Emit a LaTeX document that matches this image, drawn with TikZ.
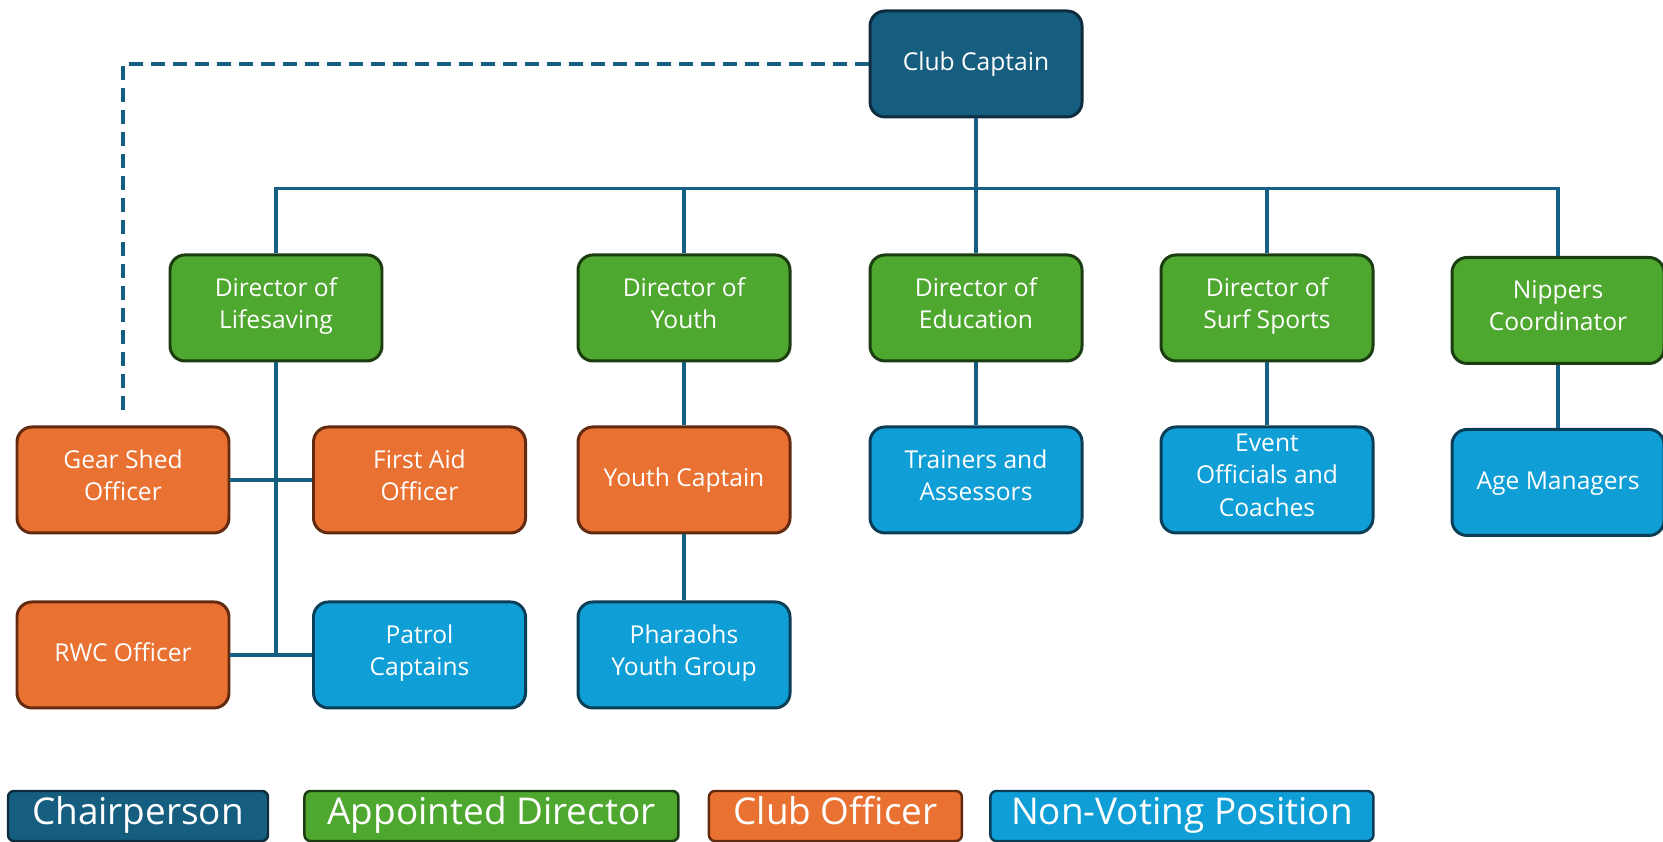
\documentclass[tikz,border=0pt]{standalone}
\usepackage{fontspec}
\setmainfont{Open Sans}
\usepackage{xcolor}
\usetikzlibrary{positioning}
\definecolor{chairfill}{RGB}{22,94,128}
\definecolor{chairline}{RGB}{14,44,62}
\definecolor{dirfill}{RGB}{78,167,46}
\definecolor{dirline}{RGB}{28,60,18}
\definecolor{offfill}{RGB}{233,113,50}
\definecolor{offline}{RGB}{98,42,14}
\definecolor{nvfill}{RGB}{15,158,213}
\definecolor{nvline}{RGB}{10,62,86}
\definecolor{linkline}{RGB}{21,96,130}

\begin{document}
\begin{tikzpicture}[
    box/.style={draw, line width=1.7pt, rounded corners=0.3cm, align=center, minimum width=4.24cm, minimum height=2.12cm, inner sep=2pt, text=white, font=\fontsize{14}{18.6}\selectfont, execute at begin node=\strut, execute at end node=\strut},
    boxchair/.style={box, fill=chairfill, draw=chairline},
    boxdir/.style={box, fill=dirfill, draw=dirline},
    boxoff/.style={box, fill=offfill, draw=offline},
    boxnv/.style={box, fill=nvfill, draw=nvline},
    link/.style={draw=linkline, line width=1.9pt},
    dashlink/.style={link, dash pattern=on 0.28cm off 0.16cm},
    legbox/.style={draw, line width=1.4pt, rounded corners=0.12cm, minimum height=1cm, inner sep=1pt, text=white, font=\fontsize{21}{24}\selectfont, execute at begin node=\strut}
]
\useasboundingbox (0,0) rectangle (33.26,16.84);

% ---------- Top ----------
\node[boxchair] (cc) at (19.52,15.56) {Club Captain};

% ---------- Directors ----------
\node[boxdir, below=2.7cm of cc, xshift=-14cm] (lifesaving) {Director of\\Lifesaving};
\node[boxdir, below=2.7cm of cc, xshift=-5.84cm] (youth) {Director of\\Youth};
\node[boxdir, below=2.7cm of cc] (edu) {Director of\\Education};
\node[boxdir, below=2.7cm of cc, xshift=5.82cm] (surf) {Director of\\Surf Sports};
\node[boxdir, below=2.75cm of cc, xshift=11.64cm] (nippers) {Nippers\\Coordinator};

% ---------- Officers and positions ----------
\node[boxoff, below=1.26cm of lifesaving, xshift=-3.06cm] (gear) {Gear Shed\\Officer};
\node[boxoff, below=1.26cm of lifesaving, xshift=2.87cm] (firstaid) {First Aid\\Officer};
\node[boxoff, below=1.32cm of gear] (rwc) {RWC Officer};
\node[boxnv, below=1.32cm of firstaid] (patrol) {Patrol\\Captains};

\node[boxoff, below=1.26cm of youth] (ycap) {Youth Captain};
\node[boxnv, below=1.32cm of ycap] (pharaohs) {Pharaohs\\Youth Group};

\node[boxnv, below=1.26cm of edu] (trainers) {Trainers and\\Assessors};
\node[boxnv, below=1.26cm of surf] (event) {Event\\Officials and\\Coaches};
\node[boxnv, below=1.26cm of nippers] (age) {Age Managers};

% ---------- Connectors ----------
\path (cc.south) ++(0,-1.4) coordinate (bus);
\draw[link] (cc.south) -- (edu.north);
\draw[link] (lifesaving.north) |- (bus) -| (nippers.north);
\draw[link] (youth.north) -- (youth.north |- bus);
\draw[link] (surf.north) -- (surf.north |- bus);

\draw[link] (lifesaving.south) -- (lifesaving.south |- rwc.east);
\draw[link] (gear.east) -- (firstaid.west);
\draw[link] (rwc.east) -- (patrol.west);

\draw[link] (youth) -- (ycap);
\draw[link] (ycap) -- (pharaohs);
\draw[link] (edu) -- (trainers);
\draw[link] (surf) -- (event);
\draw[link] (nippers) -- (age);

\draw[dashlink, shorten >=0.14cm] (cc.west) -| (gear.north);

% ---------- Legend ----------
\node[legbox, fill=chairfill, draw=chairline, minimum width=5.2cm] (lchair) at (2.76,0.52) {Chairperson};
\node[legbox, fill=dirfill, draw=dirline, minimum width=7.48cm, right=0.68cm of lchair] (ldir) {Appointed Director};
\node[legbox, fill=offfill, draw=offline, minimum width=5.06cm, right=0.56cm of ldir] (loff) {Club Officer};
\node[legbox, fill=nvfill, draw=nvline, minimum width=7.66cm, right=0.52cm of loff] (lnv) {Non-Voting Position};

\end{tikzpicture}
\end{document}
